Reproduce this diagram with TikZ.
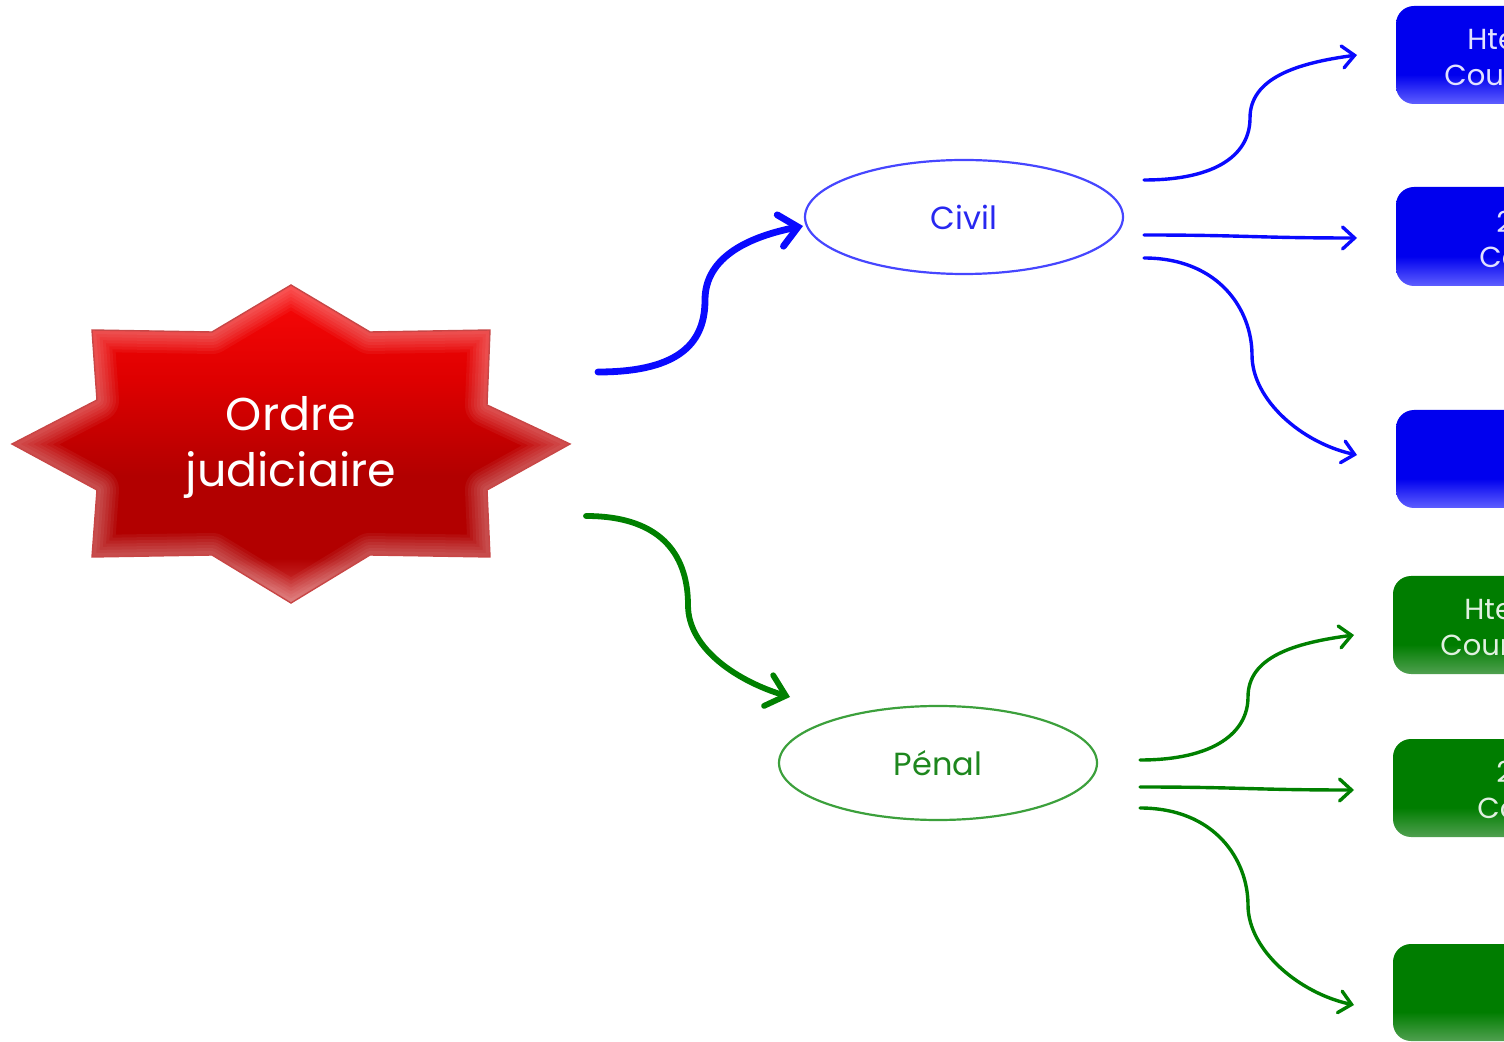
\documentclass[tikz,border=0pt]{standalone}
\usepackage{fontspec}
\setmainfont{Poppins}
\usetikzlibrary{shapes.geometric,arrows.meta}
\definecolor{starhi}{RGB}{250,8,8}
\definecolor{starmid}{RGB}{222,0,0}
\definecolor{starlo}{RGB}{178,0,0}
\definecolor{startip}{RGB}{215,75,75}
\definecolor{starrim}{RGB}{200,70,70}
\definecolor{arrblue}{RGB}{10,10,255}
\definecolor{ellblue}{RGB}{70,70,255}
\definecolor{txtblue}{RGB}{40,40,240}
\definecolor{arrgreen}{RGB}{0,128,0}
\definecolor{ellgreen}{RGB}{60,160,60}
\definecolor{txtgreen}{RGB}{30,135,30}
\definecolor{boxblue}{RGB}{0,0,238}
\definecolor{boxbluelo}{RGB}{95,95,255}
\definecolor{boxgreen}{RGB}{0,125,0}
\definecolor{boxgreenlo}{RGB}{80,160,80}
\definecolor{boxtxtb}{RGB}{225,225,255}
\definecolor{boxtxtg}{RGB}{225,240,225}
\pgfdeclareverticalshading{starshade}{100bp}{color(0bp)=(startip); color(25bp)=(startip); color(32bp)=(starlo); color(45bp)=(starlo); color(60bp)=(starmid); color(75bp)=(starhi); color(100bp)=(starhi)}
\pgfdeclareverticalshading{blueshade}{100bp}{color(0bp)=(boxbluelo); color(25bp)=(boxbluelo); color(40bp)=(boxblue); color(100bp)=(boxblue)}
\pgfdeclareverticalshading{greenshade}{100bp}{color(0bp)=(boxgreenlo); color(25bp)=(boxgreenlo); color(40bp)=(boxgreen); color(100bp)=(boxgreen)}
\tikzset{
  ell/.style={ellipse, draw, line width=1.1pt, minimum width=159pt, minimum height=57pt, inner sep=0pt, font=\fontsize{16}{19}\selectfont},
  thickarr/.style={line width=3.4pt, line cap=round, -{Straight Barb[length=9pt,width=16pt,line cap=round]}},
  thinarr/.style={line width=1.7pt, line cap=round, -{Straight Barb[length=6pt,width=11pt,line cap=round]}},
  bluebox/.style={shading=blueshade, rounded corners=9pt},
  greenbox/.style={shading=greenshade, rounded corners=9pt},
  btxt/.style={anchor=west, inner sep=0pt, font=\fontsize{14.5}{17}\selectfont},
}
\begin{document}
\begin{tikzpicture}[x=0.5pt,y=-0.5pt]
\useasboundingbox (0,0) rectangle (1504,1042);
\clip (0,0) rectangle (1504,1042);
% star
\def\starpath{(291,285) -- (370,332) -- (490,330) -- (487,405) -- (570,444) -- (487,490) -- (490,557) -- (370,555) -- (291,603) -- (212,555) -- (92,557) -- (97,490) -- (12,444) -- (97,400) -- (92,330) -- (212,332) -- cycle}
\shade[shading=starshade] \starpath;
\begin{scope}
  \clip \starpath;
  \foreach \w in {22,19,16,13,10,7,4}
    \draw[white, opacity=0.05, line width=\w pt, line join=round] \starpath;
\end{scope}
\draw[starrim, line width=0.7pt, line join=miter] \starpath;
\node[text=white, align=center, font=\fontsize{23}{28}\selectfont] (ordre) at (291,447) {Ordre\\judiciaire};
% ellipses
\node[ell, draw=ellblue, text=txtblue] (civil) at (964,217) {Civil};
\node[ell, draw=ellgreen, text=txtgreen] (penal) at (938,763) {Pénal};
% boxes
\shade[bluebox] (1396,6) rectangle (1600,104);
\shade[bluebox] (1396,187) rectangle (1600,286);
\shade[bluebox] (1396,410) rectangle (1600,508);
\shade[greenbox] (1393,576) rectangle (1600,674);
\shade[greenbox] (1393,739) rectangle (1600,837);
\shade[greenbox] (1393,944) rectangle (1600,1041);
\node[btxt, text=boxtxtb] (b1a) at (1467,40) {Hte};
\node[btxt, text=boxtxtb] (b1b) at (1444,75) {Cour};
\node[btxt, text=boxtxtb] (b2a) at (1496,222) {2e};
\node[btxt, text=boxtxtb] (b2b) at (1479,257) {Cour};
\node[btxt, text=boxtxtg] (b4a) at (1464,610) {Hte};
\node[btxt, text=boxtxtg] (b4b) at (1440,645) {Cour};
\node[btxt, text=boxtxtg] (b5a) at (1496,772) {2e};
\node[btxt, text=boxtxtg] (b5b) at (1477,808) {Cour};
% coordinates
\coordinate (s1) at (598,372); \coordinate (m1) at (705,300); \coordinate (e1) at (803,226);
\coordinate (s2) at (586,516); \coordinate (m2) at (688,605); \coordinate (e2) at (790,697);
\coordinate (ca) at (1144,180); \coordinate (cam) at (1250,118); \coordinate (cae) at (1357,55);
\coordinate (cb) at (1144,235); \coordinate (cbe) at (1357,238);
\coordinate (cc) at (1144,258); \coordinate (ccm) at (1252,355); \coordinate (cce) at (1357,455);
\coordinate (pa) at (1140,760); \coordinate (pam) at (1248,697); \coordinate (pae) at (1354,635);
\coordinate (pb) at (1140,787); \coordinate (pbe) at (1354,790);
\coordinate (pc) at (1140,808); \coordinate (pcm) at (1248,905); \coordinate (pce) at (1354,1005);
% main arrows
\draw[thickarr, arrblue] (s1) .. controls +(85,0) and +(0,40) .. (m1) .. controls +(0,-45) and +(-50,10) .. (e1);
\draw[thickarr, arrgreen, line width=2.9pt] (s2) .. controls +(80,0) and +(0,-45) .. (m2) .. controls +(0,45) and +(-50,-15) .. (e2);
% civil branches
\draw[thinarr, arrblue] (ca) .. controls +(75,0) and +(0,35) .. (cam) .. controls +(0,-40) and +(-60,8) .. (cae);
\draw[thinarr, arrblue] (cb) .. controls +(100,0) and +(-100,0) .. (cbe);
\draw[thinarr, arrblue] (cc) .. controls +(75,0) and +(0,-45) .. (ccm) .. controls +(0,45) and +(-55,-12) .. (cce);
% penal branches
\draw[thinarr, arrgreen] (pa) .. controls +(75,0) and +(0,35) .. (pam) .. controls +(0,-40) and +(-60,8) .. (pae);
\draw[thinarr, arrgreen] (pb) .. controls +(100,0) and +(-100,0) .. (pbe);
\draw[thinarr, arrgreen] (pc) .. controls +(75,0) and +(0,-45) .. (pcm) .. controls +(0,45) and +(-55,-12) .. (pce);
\end{tikzpicture}
\end{document}
